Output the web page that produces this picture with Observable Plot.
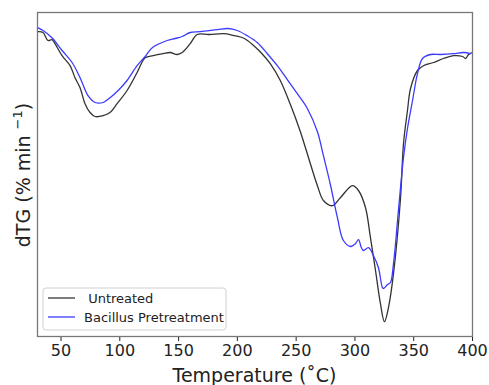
<!DOCTYPE html>
<html><head><meta charset="utf-8">
<script src="https://cdn.jsdelivr.net/npm/d3@7"></script>
<script src="https://cdn.jsdelivr.net/npm/@observablehq/plot@0.6"></script>
<style>body{margin:0;background:#fff}</style>
</head><body><div id="chart"></div>
<script>
// Untreated (black) series: temperature (°C) and dTG (arbitrary % min^-1 units)
const untreatedT = [30, 34.7, 38.9, 42.3, 44.9, 50.9, 57.7, 61.9, 66.2, 70.4, 74.7, 79.0, 85.8, 91.7, 97.7, 106.2, 114.7, 118.8, 121.6, 128.4, 136.9, 142.8, 148.8, 153.1, 159.9, 165.8, 176, 189, 197.7, 206, 214, 220, 228, 236.5, 245.1, 253.6, 262.1, 268.1, 273.2, 280.8, 287.6, 297.9, 303.0, 309.0, 313.2, 317.5, 321.7, 325.1, 328.5, 332.8, 338.8, 341.3, 344.7, 347.3, 353.2, 358.3, 366.9, 375.4, 383.9, 391.6, 394.1, 396.7, 400];
const untreatedV = [-0.48, -0.50, -0.70, -0.68, -0.78, -1.08, -1.33, -1.63, -1.88, -2.28, -2.50, -2.60, -2.58, -2.50, -2.28, -1.95, -1.50, -1.25, -1.13, -1.08, -1.03, -1.00, -1.05, -1.00, -0.78, -0.55, -0.55, -0.53, -0.58, -0.65, -0.83, -1.00, -1.28, -1.70, -2.30, -2.98, -3.78, -4.33, -4.70, -4.83, -4.63, -4.33, -4.45, -4.88, -5.63, -6.45, -7.28, -7.73, -7.38, -6.53, -4.63, -3.28, -2.45, -1.90, -1.45, -1.33, -1.25, -1.15, -1.08, -1.10, -1.15, -1.05, -1.00];
// Bacillus Pretreatment (blue) series
const bacillusT = [30, 34.7, 42.3, 50.9, 59.4, 66.2, 73.0, 79.0, 85.8, 91.7, 98.6, 106.2, 114.7, 121.6, 127.6, 140.3, 147.1, 153.1, 159.9, 168.4, 182.9, 192.2, 199.9, 208.4, 216.9, 225.5, 234.0, 242.5, 251.0, 259.5, 268.1, 273.2, 279.1, 285.1, 290.2, 296.2, 300.4, 303.0, 305.5, 307.2, 311.5, 315.8, 320.0, 323.4, 324.3, 327.7, 330.2, 332.8, 337.0, 341.3, 344.7, 349.0, 353.2, 357.5, 364.3, 372.8, 383.9, 392.4, 398.4];
const bacillusV = [-0.38, -0.45, -0.63, -0.95, -1.25, -1.63, -2.08, -2.25, -2.25, -2.13, -1.95, -1.70, -1.33, -1.10, -0.88, -0.70, -0.65, -0.60, -0.50, -0.48, -0.43, -0.40, -0.45, -0.58, -0.75, -1.03, -1.33, -1.68, -2.03, -2.40, -2.98, -3.58, -4.30, -5.13, -5.70, -5.85, -5.78, -5.68, -5.88, -5.95, -5.88, -6.08, -6.38, -6.88, -6.90, -6.80, -6.75, -6.28, -4.95, -3.63, -2.90, -2.20, -1.53, -1.15, -1.05, -1.05, -1.03, -1.00, -1.03];
const xTicks = [50, 100, 150, 200, 250, 300, 350, 400];
const seriesNames = ["Untreated", "Bacillus Pretreatment"];
const legendLabels = [" Untreated", "Bacillus Pretreatment"];
const seriesColors = ["#333333", "#3b3bff"];
const xLabel = "Temperature (˚C)";

const data = [
  ...untreatedT.map((t, i) => ({T: t, v: untreatedV[i], s: seriesNames[0]})),
  ...bacillusT.map((t, i) => ({T: t, v: bacillusV[i], s: seriesNames[1]}))
];

const plot = Plot.plot({
  width: 489, height: 385,
  marginLeft: 37, marginRight: 17, marginTop: 12, marginBottom: 49,
  style: {fontFamily: "DejaVu Sans", fontSize: "16px", background: "#fff", color: "#222"},
  x: {domain: [30, 400], ticks: xTicks, tickSize: 5, tickPadding: 3, label: null},
  y: {domain: [-8.1, 0], axis: null},
  color: {domain: seriesNames, range: seriesColors},
  marks: [
    Plot.line(data, {x: "T", y: "v", z: "s", stroke: "s", curve: "catmull-rom", strokeWidth: 1.3}),
    Plot.frame({stroke: "#777", strokeWidth: 1.3})
  ]
});
document.getElementById("chart").appendChild(plot);

const svg = d3.select(plot);
// axis labels
svg.append("text").attr("x", 254.5).attr("y", 382).attr("text-anchor", "middle")
  .attr("font-family", "DejaVu Sans").attr("font-size", 19).attr("fill", "#222").text(xLabel);
const yl = svg.append("text").attr("transform", "translate(30,175) rotate(-90)").attr("text-anchor", "middle")
  .attr("font-family", "DejaVu Sans").attr("font-size", 19).attr("fill", "#222");
yl.append("tspan").text("dTG (% min ");
yl.append("tspan").attr("font-size", 13).attr("dy", -8).text("−1");
yl.append("tspan").attr("dy", 8).text(")");

// legend
const lg = svg.append("g");
lg.append("rect").attr("x", 43).attr("y", 288).attr("width", 183).attr("height", 42).attr("rx", 3)
  .attr("fill", "#fff").attr("fill-opacity", 0.8).attr("stroke", "#d0d0d0");
seriesNames.forEach((n, i) => {
  const y = 298 + i * 19;
  lg.append("line").attr("x1", 48).attr("x2", 75).attr("y1", y).attr("y2", y)
    .attr("stroke", seriesColors[i]).attr("stroke-width", 1.3);
  lg.append("text").attr("x", 84).attr("y", y + 4.5).attr("text-anchor", "start")
    .attr("font-family", "DejaVu Sans").attr("font-size", 13)
    .attr("fill", "#222").attr("xml:space", "preserve").style("white-space", "pre").text(legendLabels[i]);
});
</script></body></html>
